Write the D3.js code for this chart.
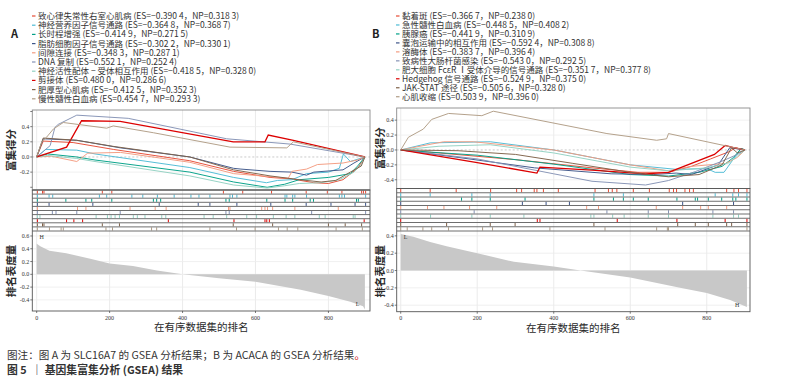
<!DOCTYPE html>
<meta charset="utf-8" />
<title>GSEA SLC16A7 / ACACA</title>
<style>
  body { margin: 0; background: #fff; }
  svg { display: block; }
  text { font-family: "Noto Sans CJK SC", "Noto Sans", sans-serif; }
  .tl { font-family: "Liberation Serif", "DejaVu Serif", serif; font-size: 6px; fill: #333; }
  .ylab { font-size: 10.5px; font-weight: bold; fill: #2a2a2a; }
</style>
<body>
<svg width="801" height="384"></svg>
<script src="https://d3js.org/d3.v7.min.js"></script>
<script>
  const svg = d3.select("svg");

  const palette = ["#E64B35", "#4DBBD5", "#00A087", "#3C5488", "#F39B7F",
                   "#8491B4", "#91D1C2", "#DC0000", "#7E6148", "#B09C85"];

  // ---- panel A (SLC16A7) ----
  const namesA = ["致心律失常性右室心肌病", "神经营养因子信号通路", "长时程增强", "脂肪细胞因子信号通路",
    "间隙连接", "DNA 复制", "神经活性配体 − 受体相互作用", "剪接体", "肥厚型心肌病", "慢性髓性白血病"];
  const esA = [-0.3904, -0.3648, -0.4149, -0.3022, -0.3483, 0.5521, -0.4185, 0.4800, -0.4125, 0.4547];
  const npA = [0.3183, 0.3687, 0.2715, 0.3301, 0.2871, 0.2524, 0.3280, 0.2866, 0.3523, 0.2933];

  const curvesA = [
    [[0,0],[18,0.21],[100,0.19],[210,0.1],[420,-0.05],[540,-0.19],[640,-0.27],[700,-0.29],[760,-0.34],[800,-0.35],[840,-0.3],[880,-0.15],[900,0]],
    [[0,0],[25,0.1],[110,0.09],[160,0.04],[420,-0.14],[540,-0.27],[630,-0.34],[660,-0.31],[700,-0.3],[740,-0.22],[800,-0.2],[830,-0.15],[841,0.04],[860,-0.06],[900,0]],
    [[0,0],[30,0.04],[110,0.0],[160,-0.04],[420,-0.2],[540,-0.33],[632,-0.4],[680,-0.36],[720,-0.3],[800,-0.27],[860,-0.22],[880,-0.12],[900,0]],
    [[0,0],[18,0.24],[110,0.22],[230,0.12],[420,0.0],[540,-0.15],[560,-0.16],[640,-0.19],[700,-0.2],[740,-0.24],[760,-0.2],[840,-0.17],[870,-0.08],[900,0]],
    [[0,0],[40,0.01],[110,-0.06],[140,0.05],[230,0.06],[420,-0.07],[540,-0.22],[640,-0.26],[690,-0.28],[700,-0.19],[740,-0.16],[770,-0.1],[840,-0.08],[880,-0.04],[900,0]],
    [[0,0],[37,0.15],[50,0.39],[59,0.43],[110,0.552],[251,0.51],[521,0.24],[695,0.17],[900,0]],
    [[0,0],[30,0.02],[110,-0.02],[160,-0.06],[420,-0.25],[540,-0.37],[632,-0.41],[680,-0.38],[720,-0.35],[780,-0.34],[830,-0.3],[870,-0.2],[890,-0.1],[900,0]],
    [[0,0],[82,0.13],[123,0.478],[229,0.47],[539,0.2],[626,0.2],[635,0.29],[704,0.22],[900,0]],
    [[0,0],[18,0.25],[110,0.22],[210,0.14],[420,0.0],[540,-0.17],[640,-0.25],[720,-0.3],[780,-0.33],[820,-0.31],[860,-0.2],[890,-0.12],[900,0]],
    [[0,0],[14,0.2],[27,0.26],[46,0.37],[73,0.455],[192,0.38],[210,0.41],[320,0.32],[530,0.13],[686,0.12],[704,0.2],[900,0]]
  ];

  const hitsA = [
    [2,16,20,180,206,512,565,644,739,797,837,891,896,902],
    [2,34,44,172,192,261,291,331,377,423,445,475,530,537,549,681,686,702,708,740,830,837,844,902],
    [2,80,135,151,206,320,329,340,519,528,631,681,702,750,759,877,882],
    [2,34,154,336,443,475,549,642,739,807,873,902],
    [2,112,135,256,325,355,526,530,617,626,633,647,708,827],
    [2,43,53,110,229,519,528,754,902],
    [2,9,163,194,204,215,227,265,276,297,343,354,459,484,521,576,603,649,684,708,775,791,868,873],
    [2,82,102,126,361,541,626,631,638,898],
    [2,16,20,180,227,539,647,800,846,891],
    [2,35,67,73,190,208,315,329,475,548,599,663,687,716,821,893]
  ];

  const metricA = [[0,0.48],[10,0.44],[35,0.37],[81,0.33],[150,0.24],[200,0.17],[264,0.13],[330,0.06],
    [400,0],[500,-0.06],[600,-0.115],[724,-0.24],[800,-0.34],[860,-0.43],[895,-0.5],[900,-0.55]];

  // ---- panel B (ACACA) ----
  const namesB = ["黏着斑", "急性髓性白血病", "胰腺癌", "囊泡运输中的相互作用", "溶酶体",
    "致病性大肠杆菌感染", "肥大细胞 FcεR Ⅰ受体介导的信号通路", "Hedgehog 信号通路", "JAK-STAT 途径", "心肌收缩"];
  const esB = [-0.3667, -0.4485, -0.4419, -0.5924, -0.3837, -0.5430, -0.3517, -0.5249, -0.5056, 0.5039];
  const npB = [0.2380, 0.4082, 0.3109, 0.3088, 0.3964, 0.2925, 0.3778, 0.3750, 0.3280, 0.3960];

  const curvesB = [
    [[0,0],[100,-0.04],[300,-0.13],[500,-0.24],[620,-0.3],[700,-0.3],[760,-0.22],[810,-0.12],[860,-0.02],[875,0.03],[900,0]],
    [[0,0],[77,0.095],[234,0.11],[400,0.0],[600,-0.2],[720,-0.26],[800,-0.25],[822,-0.3],[845,-0.3],[870,-0.12],[890,0.02],[900,0]],
    [[0,0],[80,-0.03],[200,-0.07],[400,-0.19],[600,-0.33],[700,-0.35],[780,-0.3],[840,-0.22],[870,-0.1],[890,0.02],[900,0]],
    [[0,0],[150,-0.1],[350,-0.24],[550,-0.32],[660,-0.33],[720,-0.31],[760,-0.33],[830,-0.2],[860,0.03],[900,0]],
    [[0,0],[112,0.11],[190,0.11],[400,0.0],[600,-0.2],[700,-0.28],[760,-0.22],[850,-0.18],[880,-0.1],[900,0]],
    [[0,0],[200,-0.12],[400,-0.32],[500,-0.42],[640,-0.47],[700,-0.41],[770,-0.29],[840,-0.15],[880,-0.06],[900,0]],
    [[0,0],[100,0.05],[234,0.07],[400,-0.04],[600,-0.23],[700,-0.28],[800,-0.24],[860,-0.17],[890,-0.04],[900,0]],
    [[0,0],[200,-0.17],[356,-0.31],[364,-0.23],[500,-0.27],[640,-0.32],[700,-0.3],[740,-0.22],[820,-0.06],[848,0.06],[870,0.03],[900,0]],
    [[0,0],[150,-0.01],[300,-0.06],[450,-0.18],[600,-0.3],[700,-0.36],[780,-0.33],[840,-0.2],[865,0.03],[880,-0.04],[900,0]],
    [[0,0],[20,0.17],[59,0.28],[81,0.41],[125,0.49],[212,0.46],[242,0.52],[539,0.22],[669,0.13],[695,0.15],[700,0.22],[900,0]]
  ];

  const hitsB = [
    [0,77,145,235,303,316,349,356,373,412,508,543,553,565,608,650,702,713,721,743,755,765,852,871,883,905],
    [0,77,186,234,505,582,822,868,883,905],
    [0,159,186,234,325,505,556,582,608,647,722,770,776,804,839,868,876,905],
    [0,318,380,441,737,870],
    [0,70,113,180,251,486,517,668,737,784,804,852],
    [0,192,539,647,700,816,870],
    [0,78,186,234,322,497,505,554,584,647,700,816,870,883],
    [0,357,364,566,722,848,905],
    [0,120,234,299,505,724,770,804,852,865,905],
    [0,17,58,81,125,214,240,390,534,669,697,700,905]
  ];

  const metricB = [[0,0.42],[33,0.39],[77,0.33],[120,0.28],[200,0.2],[296,0.1],[400,0.046],[470,0],
    [600,-0.08],[730,-0.2],[800,-0.26],[861,-0.34],[905,-0.42]];

  const rankTicks = [0, 200, 400, 600, 800];

  function fmt(v) {
    const s = Math.abs(v).toFixed(4);
    return (v < 0 ? "−" : "") + s.slice(0, 5) + " " + s.slice(5);
  }

  function drawLegend(names, es, np, x0, y0, step) {
    const g = svg.append("g");
    const row = g.selectAll("g").data(names).join("g")
      .attr("transform", (d, i) => `translate(${x0},${y0 + i * step})`);
    row.append("line")
      .attr("x1", 0).attr("x2", 3.5).attr("y1", 0).attr("y2", 0)
      .attr("stroke", (d, i) => palette[i]).attr("stroke-width", 1.2);
    row.append("text")
      .attr("x", 6).attr("y", 3)
      .attr("font-size", 8.5).attr("fill", "#333")
      .text((d, i) => `${d} (ES=${fmt(es[i])}，NP=${fmt(np[i])})`);
  }

  function drawPanel(p) {
    const g = svg.append("g");
    const x = d3.scaleLinear().domain(p.xDomain).range([p.left, p.right]);
    const yTop = d3.scaleLinear().domain(p.esDomain).range([p.rugTop, p.top]);
    const yBot = d3.scaleLinear().domain(p.metricDomain).range([p.bottom, p.rugBottom]);

    // grid lines
    g.selectAll(".gx").data(rankTicks).join("line")
      .attr("x1", d => x(d)).attr("x2", d => x(d))
      .attr("y1", p.top).attr("y2", p.bottom)
      .attr("stroke", "#e6e6e6").attr("stroke-width", 0.8);
    g.selectAll(".gy").data(p.esTicks.filter(d => d !== 0)).join("line")
      .attr("x1", p.left).attr("x2", p.right)
      .attr("y1", d => yTop(d)).attr("y2", d => yTop(d))
      .attr("stroke", "#ececec").attr("stroke-width", 0.8);
    g.append("line")
      .attr("x1", p.left).attr("x2", p.right)
      .attr("y1", yTop(0)).attr("y2", yTop(0))
      .attr("stroke", "#bbb").attr("stroke-width", 0.8).attr("stroke-dasharray", "2,2");
    g.selectAll(".gm").data(p.metricTicks).join("line")
      .attr("x1", p.left).attr("x2", p.right)
      .attr("y1", d => yBot(d)).attr("y2", d => yBot(d))
      .attr("stroke", "#ececec").attr("stroke-width", 0.8);

    // ranked list metric
    g.append("path")
      .datum(p.metric)
      .attr("fill", "#c8c8c8")
      .attr("d", d3.area().x(d => x(d[0])).y0(yBot(0)).y1(d => yBot(d[1])));

    // running enrichment score
    const line = d3.line().x(d => x(d[0])).y(d => yTop(d[1]));
    g.selectAll(".curve").data(p.curves).join("path")
      .attr("fill", "none")
      .attr("stroke", (d, i) => palette[i])
      .attr("stroke-width", (d, i) => i === 7 ? 1.3 : 0.95)
      .attr("d", line);

    // hit rug
    const rowH = (p.rugBottom - p.rugTop) / 10;
    p.hits.forEach((hits, i) => {
      g.selectAll(null).data(hits).join("line")
        .attr("x1", d => x(d)).attr("x2", d => x(d))
        .attr("y1", p.rugTop + i * rowH + 0.5).attr("y2", p.rugTop + (i + 1) * rowH - 0.5)
        .attr("stroke", palette[i]).attr("stroke-width", 1);
    });
    g.selectAll(".rl").data(d3.range(11)).join("line")
      .attr("x1", p.left).attr("x2", p.right)
      .attr("y1", d => p.rugTop + d * rowH).attr("y2", d => p.rugTop + d * rowH)
      .attr("stroke", "#5e5e5e").attr("stroke-width", 0.9);

    // frames
    g.append("rect")
      .attr("x", p.left).attr("y", p.top)
      .attr("width", p.right - p.left).attr("height", p.rugTop - p.top)
      .attr("fill", "none").attr("stroke", "#8a8a8a").attr("stroke-width", 0.9);
    g.append("rect")
      .attr("x", p.left).attr("y", p.rugTop)
      .attr("width", p.right - p.left).attr("height", p.bottom - p.rugTop)
      .attr("fill", "none").attr("stroke", "#555").attr("stroke-width", 0.9);

    // y axis (ES)
    g.selectAll(".ty").data(p.esTickMarks).join("line")
      .attr("x1", p.left - 2).attr("x2", p.left)
      .attr("y1", d => yTop(d)).attr("y2", d => yTop(d))
      .attr("stroke", "#444").attr("stroke-width", 0.7);
    g.selectAll(".tyl").data(p.esTicks).join("text")
      .attr("class", "tl")
      .attr("x", p.left - 3).attr("y", d => yTop(d) + 2)
      .attr("text-anchor", "end")
      .text(d => d3.format(".1f")(d).replace("−", "-"));

    // y axis (metric)
    g.selectAll(".tm").data(p.metricTicks).join("line")
      .attr("x1", p.left - 2).attr("x2", p.left)
      .attr("y1", d => yBot(d)).attr("y2", d => yBot(d))
      .attr("stroke", "#444").attr("stroke-width", 0.7);
    g.selectAll(".tml").data(p.metricTicks).join("text")
      .attr("class", "tl")
      .attr("x", p.left - 3).attr("y", d => yBot(d) + 2)
      .attr("text-anchor", "end")
      .text(d => d3.format(".1f")(d).replace("−", "-"));

    // x axis
    g.selectAll(".tx").data(rankTicks).join("line")
      .attr("x1", d => x(d)).attr("x2", d => x(d))
      .attr("y1", p.bottom).attr("y2", p.bottom + 2)
      .attr("stroke", "#444").attr("stroke-width", 0.7);
    g.selectAll(".txl").data(rankTicks).join("text")
      .attr("class", "tl")
      .attr("x", d => x(d)).attr("y", p.bottom + 8.5)
      .attr("text-anchor", "middle")
      .text(d => d);

    // H / L markers
    g.append("text").attr("class", "tl")
      .attr("x", x(8)).attr("y", p.rugBottom + 8)
      .text(p.marks[0]);
    g.append("text").attr("class", "tl")
      .attr("x", x(885)).attr("y", p.bottom - 5)
      .attr("text-anchor", "end")
      .text(p.marks[1]);

    // titles
    g.append("text").attr("class", "ylab")
      .attr("transform", `translate(${p.labelX},${(p.top + p.rugTop) / 2}) rotate(-90)`)
      .attr("text-anchor", "middle")
      .text("富集得分");
    g.append("text").attr("class", "ylab")
      .attr("transform", `translate(${p.labelX},${(p.rugBottom + p.bottom) / 2}) rotate(-90)`)
      .attr("text-anchor", "middle")
      .text("排名表度量");
    g.append("text")
      .attr("x", (p.left + p.right) / 2).attr("y", p.bottom + 20)
      .attr("text-anchor", "middle")
      .attr("font-size", 10.5).attr("fill", "#2a2a2a")
      .text("在有序数据集的排名");
  }

  drawPanel({
    left: 32.3, right: 370, top: 110, rugTop: 190, rugBottom: 231, bottom: 311,
    xDomain: [-12, 914], esDomain: [-0.436, 0.62], metricDomain: [-0.574, 0.678],
    esTicks: [0.4, 0.2, 0, -0.2], esTickMarks: [0.6, 0.4, 0.2, 0, -0.2, -0.4],
    metricTicks: [0.6, 0.4, 0.2, 0, -0.2, -0.4],
    curves: curvesA, hits: hitsA, metric: metricA, marks: ["H", "L"], labelX: 15
  });

  drawPanel({
    left: 396.7, right: 750, top: 108, rugTop: 188.5, rugBottom: 231, bottom: 311.7,
    xDomain: [-10.5, 913], esDomain: [-0.517, 0.563], metricDomain: [-0.475, 0.456],
    esTicks: [0.4, 0.2, 0, -0.2, -0.4], esTickMarks: [0.4, 0.2, 0, -0.2, -0.4],
    metricTicks: [0.4, 0.2, 0, -0.2, -0.4],
    curves: curvesB, hits: hitsB, metric: metricB, marks: ["L", "H"], labelX: 384
  });

  drawLegend(namesA, esA, npA, 32, 16, 9.2);
  drawLegend(namesB, esB, npB, 396, 16, 8.97);

  svg.append("text").attr("x", 11).attr("y", 38)
    .attr("font-size", 11).attr("font-weight", "bold").attr("fill", "#222").text("A");
  svg.append("text").attr("x", 372).attr("y", 38)
    .attr("font-size", 11).attr("font-weight", "bold").attr("fill", "#222").text("B");

  const cap = svg.append("text").attr("x", 7).attr("y", 359)
    .attr("font-size", 10.6).attr("fill", "#333");
  cap.append("tspan").text("图注：图 A 为 SLC16A7 的 GSEA 分析结果；B 为 ACACA 的 GSEA 分析结果");
  cap.append("tspan").attr("fill", "#d00000").text("。");
  svg.append("text").attr("x", 7).attr("y", 374)
    .attr("font-size", 10.8).attr("font-weight", "bold").attr("fill", "#333")
    .attr("xml:space", "preserve")
    .text("图 5  ｜ 基因集富集分析 (GSEA) 结果");
</script>
</body>
